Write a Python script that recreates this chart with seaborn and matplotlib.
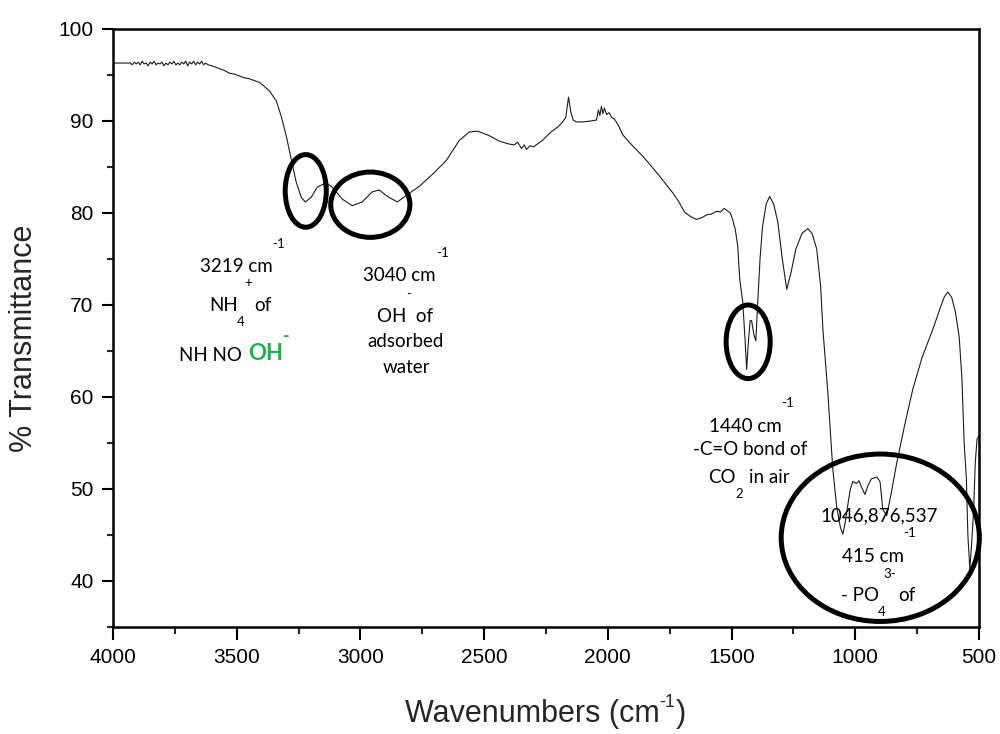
import matplotlib
matplotlib.use("Agg")
import matplotlib.pyplot as plt
from matplotlib.patches import Ellipse
from matplotlib.ticker import MultipleLocator
import seaborn as sns
import pandas as pd

# FT-IR spectrum: wavenumber (cm^-1) and % transmittance
wavenumber = [
    4000, 3960, 3930, 3922, 3914, 3906, 3898, 3890, 3882, 3874, 3866, 3858,
    3850, 3842, 3834, 3826, 3818, 3810, 3802, 3794, 3786, 3778, 3770, 3762,
    3754, 3746, 3738, 3730, 3722, 3714, 3706, 3698, 3690, 3682, 3674, 3666,
    3658, 3650, 3642, 3634, 3626, 3615, 3600,
    3571, 3550, 3530, 3510, 3490, 3470, 3450, 3430, 3409, 3390, 3369, 3340,
    3320, 3300, 3280, 3260, 3239,
    3223, 3199, 3175, 3138, 3114, 3073, 3033, 2993, 2952, 2924, 2891, 2851,
    2815, 2762, 2709, 2653, 2600, 2560, 2527, 2479, 2438, 2400, 2378, 2365,
    2349, 2338, 2329, 2315, 2300, 2264, 2230, 2200, 2183, 2170, 2159, 2150,
    2140, 2127, 2100, 2070, 2046, 2038, 2032, 2026, 2020, 2014, 2005, 1995,
    1985, 1973, 1955, 1940, 1900, 1860, 1831, 1800, 1770, 1738, 1715, 1690,
    1665, 1641, 1620, 1600, 1580, 1560, 1545, 1530, 1520, 1505, 1496, 1485,
    1475, 1467, 1455, 1445, 1439, 1432, 1425, 1419, 1410, 1402, 1395, 1385,
    1375, 1360, 1346, 1330, 1313, 1295, 1277, 1260, 1240, 1215, 1192, 1175,
    1156, 1140, 1131, 1111, 1091, 1075, 1060, 1050, 1040, 1030, 1020, 1010,
    995, 985, 975, 961, 950, 935, 913, 900, 889, 873, 855, 832,
    800, 767, 730, 686, 655, 640, 626, 610, 595, 580, 569, 560,
    551, 545, 537, 530, 522, 515, 508, 500,
]
transmittance = [
    96.3, 96.3, 96.3, 96.1, 96.4, 96.2, 96.4, 96.1, 96.5, 96.2, 96.3, 96.0,
    96.4, 96.2, 96.5, 96.1, 96.3, 96.2, 96.4, 96.0, 96.3, 96.1, 96.4, 96.2,
    96.5, 96.1, 96.3, 96.1, 96.4, 96.2, 96.5, 96.0, 96.4, 96.2, 96.5, 96.1,
    96.4, 96.2, 96.5, 96.1, 96.3, 96.1, 96.0,
    95.7, 95.5, 95.2, 95.1, 94.9, 94.7, 94.6, 94.4, 94.2, 93.8, 93.3, 92.2,
    90.5, 88.4, 85.9, 83.4, 81.7,
    81.2, 81.7, 82.8, 83.3, 82.8, 81.5, 80.8, 81.2, 82.3, 82.5, 81.8, 81.2,
    81.9, 82.9, 84.2, 85.7, 87.9, 88.8, 88.9, 88.4, 87.8, 87.5, 87.4, 87.7,
    87.0, 87.4, 86.9, 87.3, 87.2, 87.9, 88.8, 89.4, 89.9, 90.4, 92.6, 91.0,
    90.1, 89.9, 89.9, 90.0, 90.1, 91.2, 90.6, 91.6, 90.8, 91.4, 90.7, 90.9,
    90.4, 90.2, 89.4, 88.5, 87.3, 86.2, 85.3, 84.3, 83.3, 82.2, 81.3, 80.1,
    79.6, 79.3, 79.5, 79.8, 79.9, 80.2, 80.1, 80.5, 80.3, 80.0, 79.3, 78.2,
    76.4, 72.8, 70.4, 66.0, 63.0, 66.0, 68.3, 68.3, 66.8, 66.1, 69.9, 75.0,
    78.5, 81.0, 81.8, 81.0, 79.0, 75.0, 71.7, 73.5, 76.1, 77.8, 78.3, 77.8,
    76.1, 72.0, 67.4, 60.5, 52.2, 48.0, 45.8, 45.1, 46.5, 48.3, 50.0, 50.8,
    50.6, 50.9, 50.2, 49.4, 50.3, 51.1, 51.3, 50.8, 47.8, 47.1, 49.5, 52.9,
    57.0, 60.9, 64.3, 67.4, 69.8, 70.9, 71.4, 70.8, 69.2, 66.5, 62.0, 55.0,
    51.1, 45.0, 41.3, 44.0, 47.5, 52.9, 55.4, 55.8,
]

# Band-assignment rings: centre wavenumber, centre %T, width (cm^-1), height (%T)
ring_x = [3221, 2960, 1433, 899]
ring_y = [82.4, 80.9, 66.0, 44.7]
ring_w = [166, 320, 178, 801]
ring_h = [7.9, 7.1, 8.0, 18.2]

x_ticks = [4000, 3500, 3000, 2500, 2000, 1500, 1000, 500]
y_ticks = [40, 50, 60, 70, 80, 90, 100]

spectrum = pd.DataFrame({"wavenumber": wavenumber, "transmittance": transmittance})

sns.set_style("ticks")
plt.rcParams["font.family"] = ["Liberation Sans", "DejaVu Sans"]

fig = plt.figure(figsize=(10, 7.34), dpi=100)
ax = fig.add_axes([0.113, 0.1458, 0.866, 0.8147])

sns.lineplot(data=spectrum, x="wavenumber", y="transmittance", ax=ax,
             color="#1c1c1c", linewidth=0.8, estimator=None, sort=False)

ax.set_xlim(4000, 500)
ax.set_ylim(35, 100)
ax.set_xticks(x_ticks)
ax.set_yticks(y_ticks)
ax.xaxis.set_minor_locator(MultipleLocator(250))
ax.yaxis.set_minor_locator(MultipleLocator(5))

for side in ["left", "right", "top", "bottom"]:
    ax.spines[side].set_visible(True)
    ax.spines[side].set_linewidth(1.8)
    ax.spines[side].set_color("black")

ax.tick_params(axis="x", which="major", direction="out", length=9, width=1.5,
               labelsize=15, pad=6, colors="black")
ax.tick_params(axis="x", which="minor", direction="out", length=5, width=1.5)
ax.tick_params(axis="y", which="major", direction="out", length=8, width=1.5,
               labelsize=15, pad=6, colors="black")
ax.tick_params(axis="y", which="minor", direction="out", length=4.5, width=1.5)
ax.tick_params(top=False, right=False, which="both")

ax.set_xlabel("")
ax.set_ylabel("% Transmittance", fontsize=22)
ax.yaxis.set_label_coords(-0.086, 0.483)

# x-axis title built from pieces so the superscript keeps a plain hyphen
t_main = fig.text(0.405, 0.016, "Wavenumbers (cm", fontsize=22,
                  ha="left", va="baseline")
t_sup = ax.annotate("-1", xy=(1.0, 0.62), xycoords=t_main, fontsize=13,
                    ha="left", va="bottom", annotation_clip=False)
ax.annotate(")", xy=(1.0, 0.0), xycoords=(t_sup, t_main), fontsize=22,
            ha="left", va="bottom", annotation_clip=False)

for cx, cy, w, h in zip(ring_x, ring_y, ring_w, ring_h):
    ax.add_patch(Ellipse((cx, cy), w, h, fill=False, edgecolor="black",
                         linewidth=3.6, clip_on=False, zorder=3))

note_font = ["Lato", "DejaVu Sans"]


def note(x, y, s, size=13.5, **kw):
    ax.text(x, y, s, fontsize=size, family=note_font, ha="center",
            va="center", color=kw.pop("color", "black"), **kw)


small = 9.5

# NH4+ / OH- band near 3219
note(3332, 76.6, "-1", small)
note(3502, 74.2, "3219 cm")
note(3454, 72.4, "+", small)
note(3551, 69.9, "NH")
note(3482, 68.2, "4", small)
note(3393, 69.9, "of")
note(3608, 64.5, "NH NO")
note(3385, 64.7, "OH", 16, color="#1fae4b", fontweight="bold")
note(3300, 66.6, "-", 13, color="#1fae4b", fontweight="bold")

# adsorbed water band near 3040
note(2669, 75.7, "-1", small)
note(2843, 73.2, "3040 cm")
note(2806, 71.2, "-", small)
note(2819, 68.7, "OH  of")
note(2819, 66.0, "adsorbed")
note(2815, 63.2, "water")

# CO2 band near 1440
note(1273, 59.3, "-1", small)
note(1443, 56.8, "1440 cm")
note(1423, 54.3, "-C=O bond of")
note(1540, 51.3, "CO")
note(1467, 49.5, "2", small)
note(1346, 51.3, "in air")

# phosphate bands
note(905, 47.1, "1046,876,537")
note(779, 45.2, "-1", small)
note(929, 42.7, "415 cm")
note(860, 40.8, "3-", small)
note(982, 38.4, "- PO")
note(893, 36.6, "4", small)
note(792, 38.4, "of")

fig.savefig("out.png", dpi=100)
